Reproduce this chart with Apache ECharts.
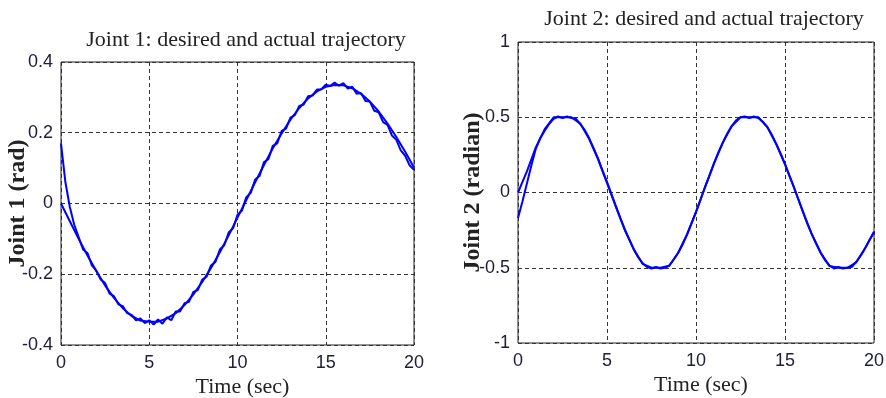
<!DOCTYPE html>
<html>
<head>
<meta charset="utf-8">
<title>Joint trajectories</title>
<script src="https://cdn.jsdelivr.net/npm/echarts@6/dist/echarts.min.js"></script>
<style>
	html, body { margin: 0; padding: 0; background: #fff; }
	#chart { width: 886px; height: 398px; }
</style>
</head>
<body>
<div id="chart"></div>
<script>
// sample steps (sec)
const desiredStep = 0.5;
const actualStep = 0.25;

// joint 1 (rad)
const joint1Desired = [0, -0.05, -0.1, -0.147, -0.191, -0.232, -0.267, -0.296, -0.318, -0.331, -0.334,
	-0.334, -0.325, -0.31, -0.287, -0.257, -0.222, -0.182, -0.138, -0.09, -0.04,
	0.01, 0.06, 0.109, 0.156, 0.198, 0.237, 0.27, 0.297, 0.317, 0.33,
	0.335, 0.334, 0.326, 0.31, 0.288, 0.26, 0.226, 0.188, 0.146, 0.102];
const joint1Actual = [0.17, 0.06, -0.01, -0.06, -0.095, -0.13, -0.14, -0.175, -0.19, -0.215, -0.225,
	-0.255, -0.262, -0.285, -0.29, -0.31, -0.315, -0.33, -0.325, -0.338, -0.33,
	-0.342, -0.328, -0.34, -0.322, -0.33, -0.305, -0.305, -0.282, -0.278, -0.25,
	-0.245, -0.215, -0.207, -0.175, -0.165, -0.13, -0.118, -0.082, -0.07, -0.032,
	-0.02, 0.018, 0.03, 0.068, 0.078, 0.117, 0.125, 0.163, 0.17, 0.205,
	0.212, 0.243, 0.25, 0.276, 0.28, 0.303, 0.305, 0.322, 0.323, 0.336,
	0.332, 0.342, 0.333, 0.34, 0.325, 0.33, 0.31, 0.312, 0.29, 0.288,
	0.262, 0.258, 0.23, 0.222, 0.192, 0.18, 0.15, 0.135, 0.108, 0.095];

// joint 2 (radian)
const joint2Desired = [0, 0.14, 0.3, 0.421, 0.5, 0.5, 0.5, 0.458, 0.355, 0.22, 0.064,
	-0.096, -0.249, -0.378, -0.474, -0.5, -0.5, -0.487, -0.4, -0.277, -0.128,
	0.033, 0.19, 0.33, 0.44, 0.5, 0.5, 0.5, 0.437, 0.324, 0.187,
	0.035, -0.126, -0.276, -0.399, -0.489, -0.5, -0.5, -0.465, -0.37, -0.26];
const joint2Actual = [-0.17, -0.06, 0.06, 0.18, 0.29, 0.36, 0.41, 0.455, 0.49, 0.505, 0.495,
	0.505, 0.495, 0.49, 0.455, 0.415, 0.36, 0.295, 0.225, 0.145, 0.07,
	-0.01, -0.09, -0.17, -0.245, -0.31, -0.375, -0.43, -0.47, -0.495, -0.505,
	-0.495, -0.505, -0.5, -0.485, -0.445, -0.4, -0.345, -0.28, -0.205, -0.13,
	-0.05, 0.035, 0.11, 0.19, 0.265, 0.33, 0.39, 0.44, 0.48, 0.5,
	0.505, 0.495, 0.505, 0.495, 0.47, 0.435, 0.385, 0.325, 0.26, 0.19,
	0.11, 0.035, -0.045, -0.125, -0.205, -0.275, -0.34, -0.4, -0.45, -0.485,
	-0.505, -0.495, -0.505, -0.5, -0.495, -0.46, -0.42, -0.37, -0.315, -0.265];

// axis ticks
const timeTicks = [0, 5, 10, 15, 20];
const joint1Ticks = [-0.4, -0.2, 0, 0.2, 0.4];
const joint2Ticks = [-1, -0.5, 0, 0.5, 1];

function toPairs(values, step) {
	return values.map((v, i) => [i * step, v]);
}

const tickFont = {
	color: '#20203a',
	fontFamily: 'Liberation Sans',
	fontSize: 18,
};
const serif = 'Liberation Serif';
const gridLine = {
	show: true,
	lineStyle: { color: '#333', width: 1, type: [4, 3] },
};

function xAxis(gridIndex) {
	return {
		type: 'value',
		gridIndex: gridIndex,
		min: timeTicks[0],
		max: timeTicks[timeTicks.length - 1],
		interval: timeTicks[1] - timeTicks[0],
		name: 'Time (sec)',
		nameLocation: 'middle',
		nameGap: 31,
		nameMoveOverlap: false,
		nameTextStyle: { fontFamily: serif, fontSize: 22, color: '#222', padding: [0, 0, 0, 10] },
		axisLine: { show: false },
		axisTick: { show: false },
		axisLabel: { ...tickFont, margin: 9 },
		splitLine: gridLine,
	};
}

function yAxis(gridIndex, ticks, name, gap) {
	return {
		type: 'value',
		gridIndex: gridIndex,
		min: ticks[0],
		max: ticks[ticks.length - 1],
		interval: ticks[1] - ticks[0],
		name: name,
		nameLocation: 'middle',
		nameGap: gap,
		nameMoveOverlap: false,
		nameTextStyle: { fontFamily: serif, fontSize: 24, fontWeight: 'bold', color: '#222' },
		axisLine: { show: false },
		axisTick: { show: false },
		axisLabel: { ...tickFont, margin: 8 },
		splitLine: gridLine,
	};
}

function line(name, xi, data, width) {
	return {
		name: name,
		type: 'line',
		xAxisIndex: xi,
		yAxisIndex: xi,
		data: data,
		showSymbol: false,
		animation: false,
		lineStyle: { color: '#0000ff', width: width },
	};
}

const chart = echarts.init(document.getElementById('chart'));
chart.setOption({
	backgroundColor: '#fff',
	title: [
		{
			text: 'Joint 1: desired and actual trajectory',
			left: 241,
			top: 24,
			textAlign: 'center',
			textStyle: { fontFamily: serif, fontSize: 22, fontWeight: 'normal', color: '#222' },
		},
		{
			text: 'Joint 2: desired and actual trajectory',
			left: 699,
			top: 3,
			textAlign: 'center',
			textStyle: { fontFamily: serif, fontSize: 22, fontWeight: 'normal', color: '#222' },
		},
	],
	grid: [
		{ left: 61, top: 62, width: 353, height: 283, outerBoundsMode: 'none', containLabel: false,
			show: true, borderColor: '#222', borderWidth: 1 },
		{ left: 518, top: 42, width: 356, height: 301, outerBoundsMode: 'none', containLabel: false,
			show: true, borderColor: '#222', borderWidth: 1 },
	],
	xAxis: [xAxis(0), xAxis(1)],
	yAxis: [
		yAxis(0, joint1Ticks, 'Joint 1 (rad)', 31),
		yAxis(1, joint2Ticks, 'Joint 2 (radian)', 33),
	],
	series: [
		line('Joint 1 desired', 0, toPairs(joint1Desired, desiredStep), 2),
		line('Joint 1 actual', 0, toPairs(joint1Actual, actualStep), 2),
		line('Joint 2 desired', 1, toPairs(joint2Desired, desiredStep), 2),
		line('Joint 2 actual', 1, toPairs(joint2Actual, actualStep), 2),
	],
});
</script>
</body>
</html>
